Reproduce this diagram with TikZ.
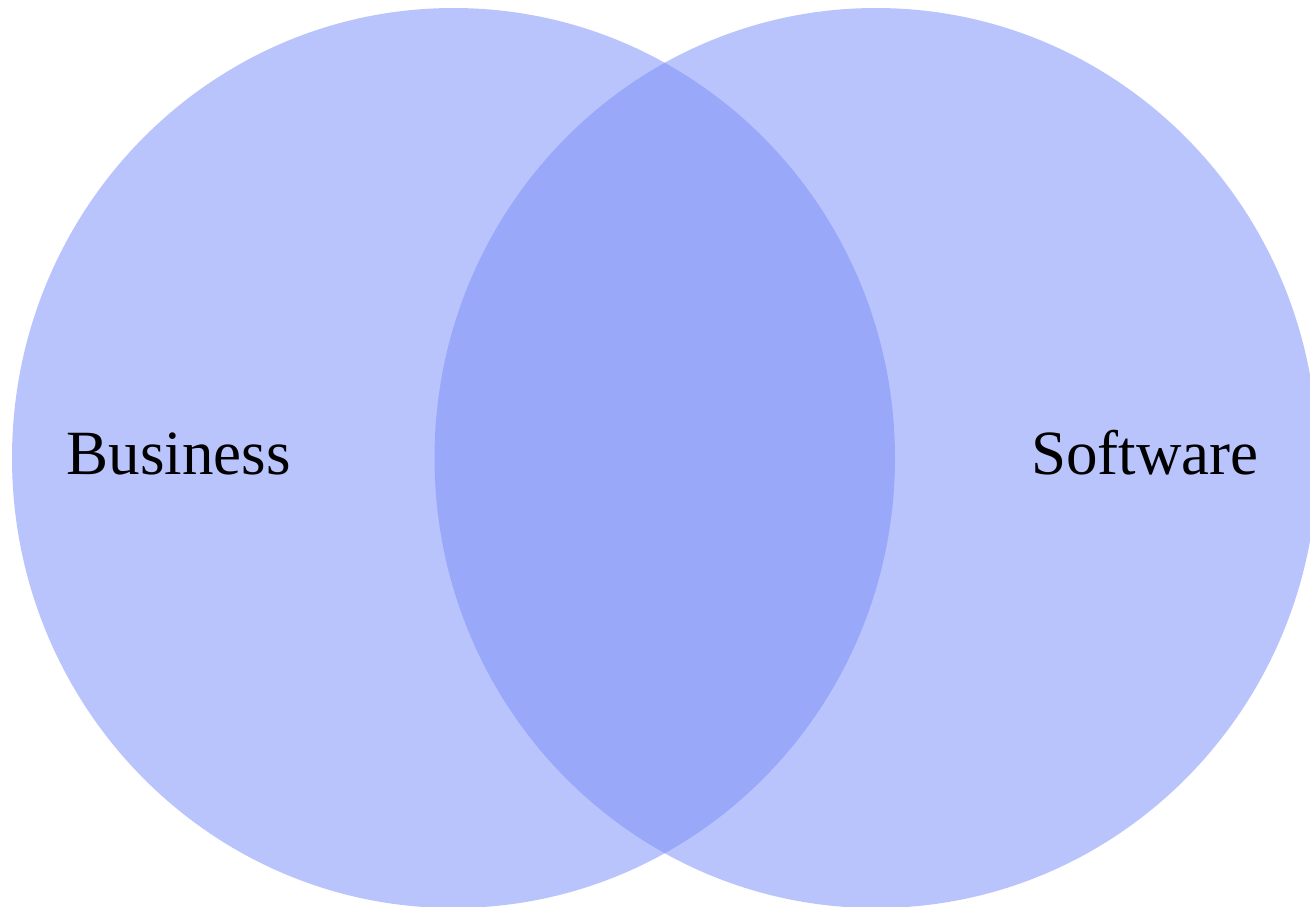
\documentclass[tikz,border=0pt]{standalone}
\usepackage{fontspec}
\setmainfont{Liberation Serif}
\definecolor{setblue}{RGB}{125,144,249}
\tikzset{
  setfill/.style={fill=setblue, fill opacity=0.53, draw=none},
  setlabel/.style={anchor=base, inner sep=0pt, font=\fontsize{63}{63}\selectfont, text=black}
}
\begin{document}
\begin{tikzpicture}[x=1pt,y=-1pt]
  \useasboundingbox (0,0) rectangle (1310,906);
  \begin{scope}
    \clip (0,0) rectangle (1310,906);
    \fill[setfill] (453.5,458) ellipse [x radius=441.5, y radius=450];
    \fill[setfill] (876,458) ellipse [x radius=441.5, y radius=450];
  \end{scope}
  \node[setlabel] (business) at (178.5,474) {Business};
  \node[setlabel] (software) at (1145,474) {Software};
\end{tikzpicture}
\end{document}
